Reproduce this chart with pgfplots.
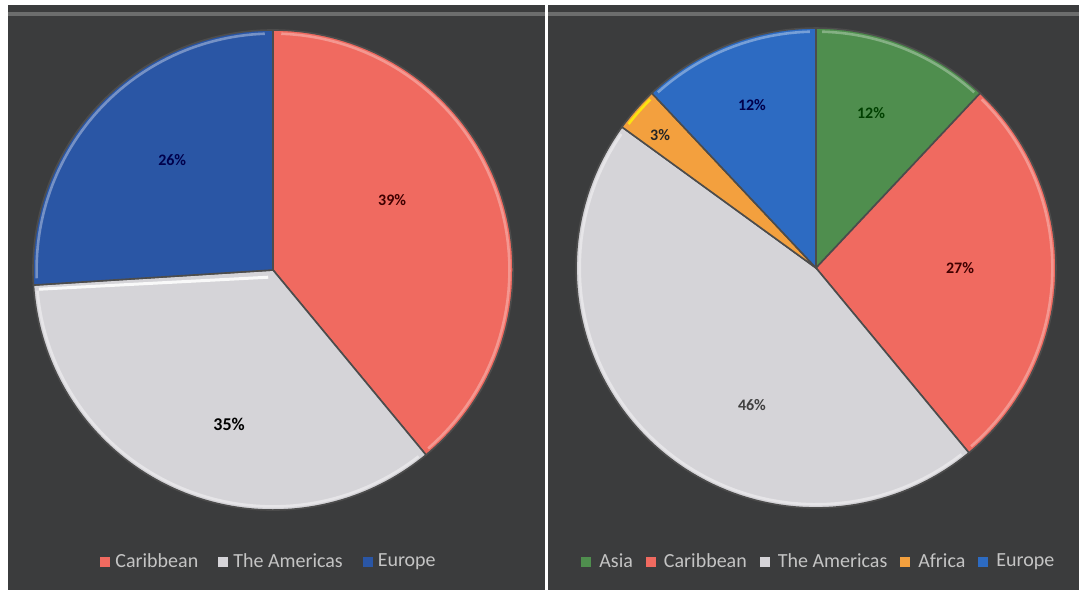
\documentclass[border=0pt]{standalone}
\usepackage{pgfplots}
\pgfplotsset{compat=1.18}
\usepackage{fontspec}
\setmainfont{Carlito}
\definecolor{bg}{HTML}{3B3C3D}
\definecolor{car}{HTML}{F06A60}
\definecolor{ame}{HTML}{D5D4D8}
\definecolor{eurL}{HTML}{2A56A5}
\definecolor{eurR}{HTML}{2D6BC2}
\definecolor{asia}{HTML}{4F8E4E}
\definecolor{afr}{HTML}{F3A03E}
\definecolor{legtext}{HTML}{C4C4C4}
\tikzset{lab/.style={font=\fontsize{8}{9}\selectfont\bfseries}}
\pgfplotsset{
  pie/.style={scale only axis, axis lines=none, ticks=none, clip=false,
    axis background/.style={fill=bg},
    legend columns=-1,
    legend style={draw=none, fill=none, text=legtext,
      font=\fontsize{10}{12}\selectfont},
    legend image code/.code={\fill[##1,draw=none] (0pt,-2.6pt) rectangle (5pt,2.6pt);},
  },
  wedge/.style={draw=black!70, line width=0.8pt, samples=90, variable=\t},
  rim/.style={line width=1.3pt, samples=60, variable=\t, forget plot},
}
\begin{document}
\begin{tikzpicture}
\path[use as bounding box] (0,0) rectangle (540.5pt,297pt);
% Left pie: Caribbean 39, The Americas 35, Europe 26 (clockwise from top)
\begin{axis}[pie, at={(4pt,2pt)}, anchor=south west,
  width=268.5pt, height=292.5pt,
  xmin=-1.104, xmax=1.133, ymin=-1.333, ymax=1.104,
  legend style={at={(0.488,0.048)}, anchor=center,
   /tikz/every even column/.append style={column sep=8pt},
   /tikz/every odd column/.append style={column sep=0.5pt}}]
\addplot[wedge, fill=car, domain=90:-50.4] ({cos(\t)},{sin(\t)}) -- (axis cs:0,0) -- cycle;
\addlegendentry{Caribbean}
\addplot[wedge, fill=ame, domain=-50.4:-176.4] ({cos(\t)},{sin(\t)}) -- (axis cs:0,0) -- cycle;
\addlegendentry{The Americas}
\addplot[wedge, fill=eurL, domain=-176.4:-270] ({cos(\t)},{sin(\t)}) -- (axis cs:0,0) -- cycle;
\addlegendentry{Europe}
\addplot[rim, draw=car!70!white, domain=88:-49] ({0.985*cos(\t)},{0.985*sin(\t)});
\addplot[rim, draw=ame!60!white, domain=-52:-175] ({0.985*cos(\t)},{0.985*sin(\t)});
\addplot[rim, draw=eurL!65!white, domain=-178:-268] ({0.985*cos(\t)},{0.985*sin(\t)});
\addplot[rim, draw=white!85!ame, line width=1.5pt, samples=2] coordinates {(-0.975,-0.08) (-0.02,-0.03)};
\draw[white!25!bg, line width=2pt] (rel axis cs:0,0.985) -- (rel axis cs:1,0.985);
\node[lab, text=black!75!red] at (axis cs:0.496,0.292) {39\%};
\node[lab, text=black!70!blue] at (axis cs:-0.42,0.458) {26\%};
\node[lab, font=\fontsize{9}{10}\selectfont\bfseries, text=black] at (axis cs:-0.183,-0.642) {35\%};
\end{axis}
% Right pie: Asia 12, Caribbean 27, The Americas 46, Africa 3, Europe 12
\begin{axis}[pie, at={(274pt,2pt)}, anchor=south west,
  width=265.5pt, height=292.5pt,
  xmin=-1.117, xmax=1.096, ymin=-1.342, ymax=1.096,
  legend style={at={(0.512,0.048)}, anchor=center,
   /tikz/every even column/.append style={column sep=4.5pt},
   /tikz/every odd column/.append style={column sep=2pt}}]
\addplot[wedge, fill=asia, domain=90:46.8] ({cos(\t)},{sin(\t)}) -- (axis cs:0,0) -- cycle;
\addlegendentry{Asia}
\addplot[wedge, fill=car, domain=46.8:-50.4] ({cos(\t)},{sin(\t)}) -- (axis cs:0,0) -- cycle;
\addlegendentry{Caribbean}
\addplot[wedge, fill=ame, domain=-50.4:-216] ({cos(\t)},{sin(\t)}) -- (axis cs:0,0) -- cycle;
\addlegendentry{The Americas}
\addplot[wedge, fill=afr, domain=-216:-226.8] ({cos(\t)},{sin(\t)}) -- (axis cs:0,0) -- cycle;
\addlegendentry{Africa}
\addplot[wedge, fill=eurR, domain=-226.8:-270] ({cos(\t)},{sin(\t)}) -- (axis cs:0,0) -- cycle;
\addlegendentry{Europe}
\addplot[rim, draw=asia!70!white, domain=88.5:48] ({0.985*cos(\t)},{0.985*sin(\t)});
\addplot[rim, draw=car!70!white, domain=45.5:-49] ({0.985*cos(\t)},{0.985*sin(\t)});
\addplot[rim, draw=ame!60!white, domain=-52:-214.5] ({0.985*cos(\t)},{0.985*sin(\t)});
\addplot[rim, draw=yellow!80!afr, domain=-217.5:-225.5] ({0.985*cos(\t)},{0.985*sin(\t)});
\addplot[rim, draw=eurR!65!white, domain=-228:-268.5] ({0.985*cos(\t)},{0.985*sin(\t)});
\draw[white!25!bg, line width=2pt] (rel axis cs:0,0.985) -- (rel axis cs:1,0.985);
\node[lab, text=black!75!green] at (axis cs:0.229,0.646) {12\%};
\node[lab, text=black!70!blue] at (axis cs:-0.267,0.679) {12\%};
\node[lab, text=black!85] at (axis cs:-0.65,0.554) {3\%};
\node[lab, text=black!75!red] at (axis cs:0.6,0) {27\%};
\node[lab, text=black!75] at (axis cs:-0.267,-0.571) {46\%};
\end{axis}
\end{tikzpicture}
\end{document}
